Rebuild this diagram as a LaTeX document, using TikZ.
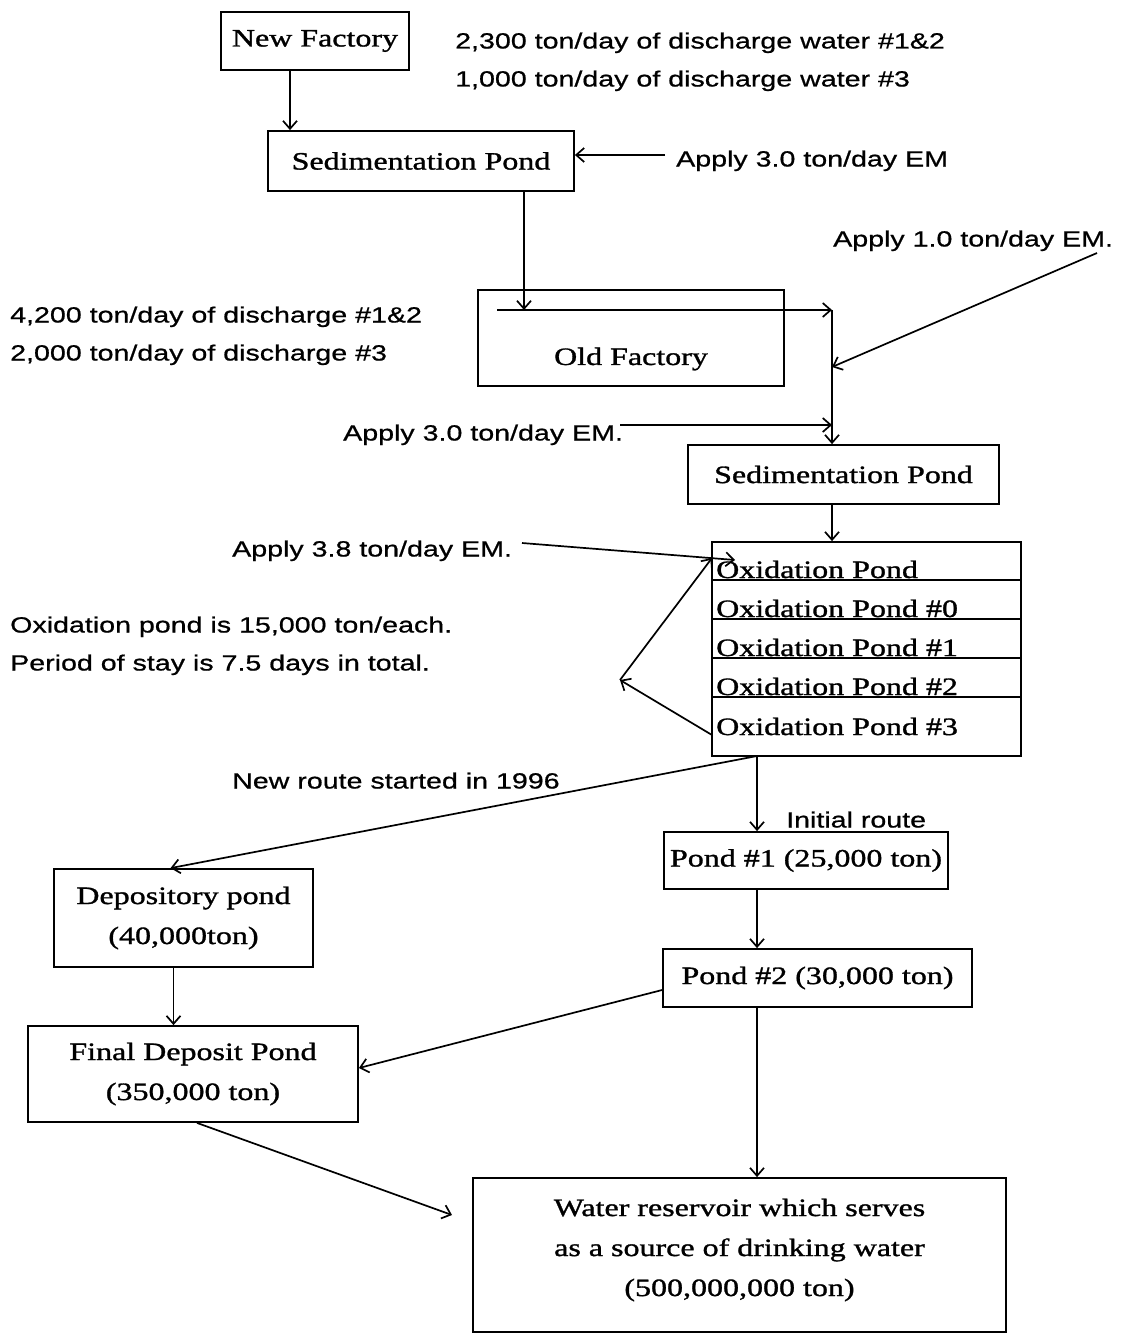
\documentclass[tikz,border=0pt]{standalone}
\usepackage{fontspec}
\newfontfamily\serifF[FakeStretch=1.28,FakeBold=1.2]{Liberation Serif}
\newfontfamily\sansF[FakeStretch=1.3,FakeBold=0.8]{Liberation Sans}
\usetikzlibrary{arrows.meta}
\begin{document}
\begin{tikzpicture}[x=1pt,y=-1pt,
 box/.style={draw,line width=1.8pt,inner sep=0pt,font=\serifF\fontsize{25}{40}\selectfont,align=center},
 lbl/.style={inner sep=0pt,anchor=base west,font=\sansF\fontsize{22}{26}\selectfont},
 txt/.style={inner sep=0pt,font=\serifF\fontsize{25}{40}\selectfont,align=center},
 oxt/.style={inner sep=0pt,anchor=base west,font=\serifF\fontsize{25}{30}\selectfont},
 arr/.style={line width=1.7pt,-{Straight Barb[length=8pt,width=14pt]}},
 ln/.style={line width=1.5pt}]
\useasboundingbox (0,0) rectangle (1120,1335);

% boxes
\node[box,minimum width=188pt,minimum height=58pt] (nf) at (315,41) {New Factory};
\node[box,minimum width=306pt,minimum height=60pt] (sp1) at (421,161) {Sedimentation Pond};
\node[box,minimum width=306pt,minimum height=96pt] (of) at (631,338) {};
\node[txt] (oft) at (631,359) {Old Factory};
\node[box,minimum width=311pt,minimum height=59pt] (sp2) at (843.5,474.5) {Sedimentation Pond};
\node[box,minimum width=309pt,minimum height=214pt] (ox) at (866.5,649) {};
\draw[ln] (712,580) -- (1021,580);
\draw[ln] (712,619) -- (1021,619);
\draw[ln] (712,658) -- (1021,658);
\draw[ln] (712,697) -- (1021,697);
\node[oxt] (ox0) at (716,578) {Oxidation Pond};
\node[oxt] (ox1) at (716,617) {Oxidation Pond \#0};
\node[oxt] (ox2) at (716,656) {Oxidation Pond \#1};
\node[oxt] (ox3) at (716,695) {Oxidation Pond \#2};
\node[oxt] (ox4) at (716,735) {Oxidation Pond \#3};
\node[box,minimum width=284pt,minimum height=57pt] (p1) at (806,860.5) {Pond \#1 (25,000 ton)};
\node[box,minimum width=309pt,minimum height=58pt] (p2) at (817.5,978) {Pond \#2 (30,000 ton)};
\node[box,minimum width=259pt,minimum height=98pt] (dep) at (183.5,918) {Depository pond\\(40,000ton)};
\node[box,minimum width=330pt,minimum height=96pt] (fin) at (193,1074) {Final Deposit Pond\\(350,000 ton)};
\node[box,minimum width=533pt,minimum height=154pt] (res) at (739.5,1255) {};
\node[txt] (rest) at (739.5,1250) {Water reservoir which serves\\as a source of drinking water\\(500,000,000 ton)};

% labels
\node[lbl] (s1) at (455,48.5) {2,300 ton/day of discharge water \#1\&2};
\node[lbl] (s2) at (455,86.5) {1,000 ton/day of discharge water \#3};
\node[lbl] (t3) at (676,166.5) {Apply 3.0 ton/day EM};
\node[lbl] (t4) at (833,246.5) {Apply 1.0 ton/day EM.};
\node[lbl] (s5) at (10,322.5) {4,200 ton/day of discharge \#1\&2};
\node[lbl] (s6) at (10,360.5) {2,000 ton/day of discharge \#3};
\node[lbl] (t7) at (343,440.5) {Apply 3.0 ton/day EM.};
\node[lbl] (t8) at (232,556.5) {Apply 3.8 ton/day EM.};
\node[lbl] (s9) at (10,632.5) {Oxidation pond is 15,000 ton/each.};
\node[lbl] (s10) at (10,670.5) {Period of stay is 7.5 days in total.};
\node[lbl] (s11) at (232,788.5) {New route started in 1996};
\node[lbl] (s12) at (786,827.5) {Initial route};

% coordinates
\coordinate (t3s) at (665,155);
\coordinate (ofin) at (524,310);
\coordinate (jB) at (497,310);
\coordinate (jA) at (832,310);
\coordinate (t4s) at (1097,253);
\coordinate (m1) at (832,367);
\coordinate (t7s) at (620,425);
\coordinate (m2) at (832,425);
\coordinate (t8s) at (522,543);
\coordinate (oxin) at (735,560);
\coordinate (lp) at (620,680);
\coordinate (lpa) at (712,558);
\coordinate (lpb) at (712,735);
\coordinate (oxo) at (757,756);
\coordinate (resin) at (452,1215);

% connectors
\draw[arr] ([xshift=-25pt]nf.south) -- ([xshift=-25pt]nf.south |- sp1.north);
\draw[arr] (t3s) -- (t3s -| sp1.east);
\draw[arr] (sp1.south -| ofin) -- (ofin);
\draw[arr] (jB) -- (jA);
\draw[arr] (jA) -- (jA |- sp2.north);
\draw[arr] (t4s) -- (m1);
\draw[arr] (t7s) -- (m2);
\draw[arr] (sp2.south -| jA) -- (ox.north -| jA);
\draw[arr] (t8s) -- (oxin);
\draw[arr] (lpb) -- (lp);
\draw[arr] (lp) -- (lpa);
\draw[arr] (oxo) -- (oxo |- p1.north);
\draw[arr] (oxo) -- ([xshift=-13pt]dep.north);
\draw[arr] (p1.south -| oxo) -- (p2.north -| oxo);
\draw[arr] ([yshift=-12pt]p2.west) -- ([yshift=6pt]fin.east);
\draw[arr] (p2.south -| oxo) -- (res.north -| oxo);
\draw[arr] ([xshift=4pt]fin.south) -- (resin);
\draw[arr] ([xshift=-10pt]dep.south) -- ([xshift=-10pt]dep.south |- fin.north);
\end{tikzpicture}
\end{document}
